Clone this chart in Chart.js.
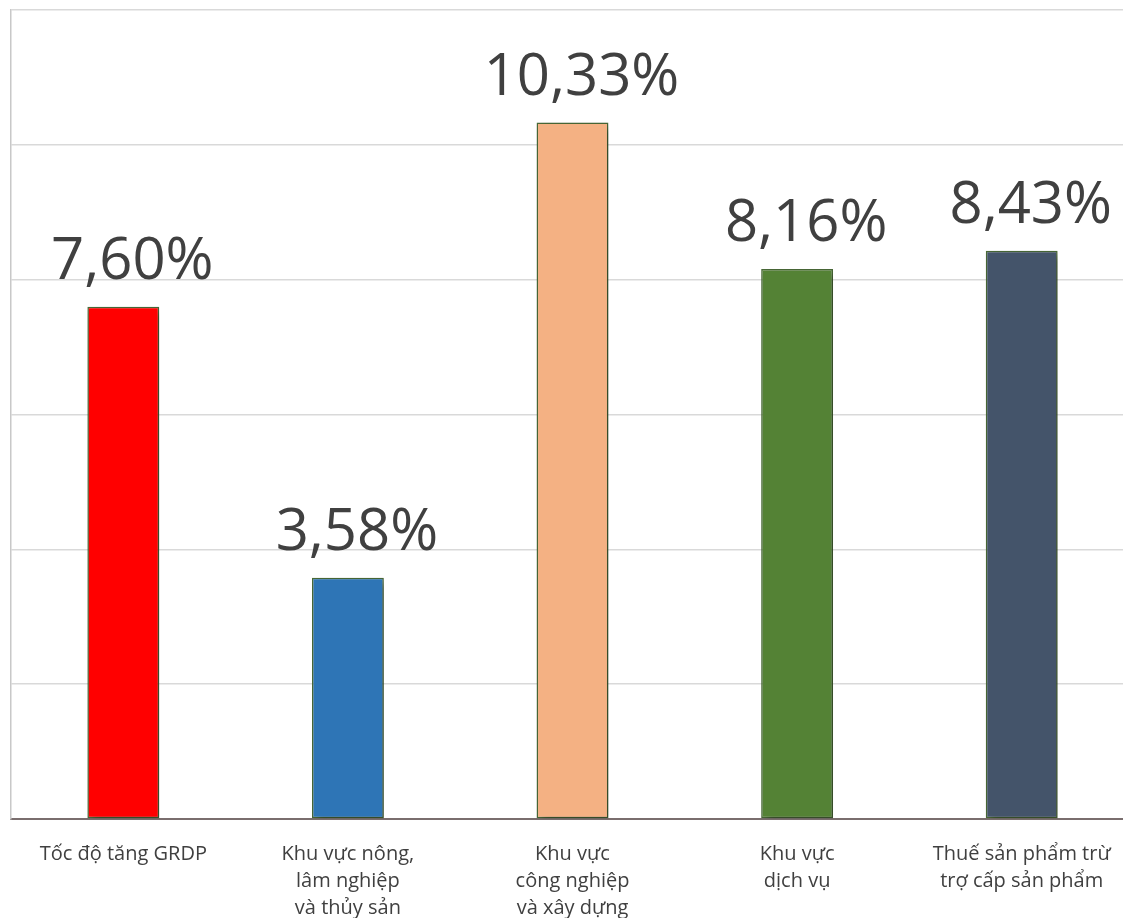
<!DOCTYPE html>
<html>
<head>
<meta charset="utf-8">
<script src="https://cdn.jsdelivr.net/npm/chart.js@4"></script>
<style>
  html, body { margin: 0; padding: 0; background: #fff; overflow: hidden; }
  #wrap { position: relative; width: 1134px; height: 918px; }
</style>
</head>
<body>
<div id="wrap"><canvas id="grdpChart"></canvas></div>
<script>
// categories (multi-line labels as in the picture)
const categories = [
    ['Tốc độ tăng GRDP'],
    ['Khu vực nông,', 'lâm nghiệp', 'và thủy sản'],
    ['Khu vực', 'công nghiệp', 'và xây dựng'],
    ['Khu vực', 'dịch vụ'],
    ['Thuế sản phẩm trừ', 'trợ cấp sản phẩm']
];
const growthValues = [7.60, 3.58, 10.33, 8.16, 8.43];
const barColors = ['#ff0000', '#2e75b6', '#f4b183', '#548235', '#44546a'];
const yTicks = [0, 2, 4, 6, 8, 10, 12];

// value labels above bars, e.g. "7,60%"
const valueLabels = {
    id: 'valueLabels',
    afterDatasetsDraw(chart) {
        const ctx = chart.ctx;
        const meta = chart.getDatasetMeta(0);
        ctx.save();
        ctx.font = '58px "Open Sans"';
        ctx.fillStyle = '#404040';
        ctx.textAlign = 'center';
        ctx.textBaseline = 'alphabetic';
        meta.data.forEach((bar, i) => {
            const txt = growthValues[i].toFixed(2).replace('.', ',') + '%';
            ctx.fillText(txt, bar.x + 9, bar.y - 28);
        });
        ctx.restore();
    }
};

// soft shadow behind the bars
const barShadow = {
    id: 'barShadow',
    beforeDatasetDraw(chart) {
        const ctx = chart.ctx;
        ctx.save();
        ctx.shadowColor = 'rgba(0,0,0,0.35)';
        ctx.shadowBlur = 8;
        ctx.shadowOffsetX = 4;
        ctx.shadowOffsetY = 4;
    },
    afterDatasetDraw(chart) {
        chart.ctx.restore();
    }
};

const ctxEl = document.getElementById('grdpChart');
new Chart(ctxEl.getContext('2d'), {
    type: 'bar',
    data: {
        labels: categories,
        datasets: [{
            data: growthValues,
            backgroundColor: barColors,
            borderColor: '#4a6a38',
            borderWidth: 1.5,
            borderSkipped: false,
            barPercentage: 0.32,
            categoryPercentage: 1
        }]
    },
    options: {
        responsive: true,
        maintainAspectRatio: false,
        animation: false,
        layout: { padding: { left: 11, top: 10, right: 0, bottom: 0 } },
        plugins: {
            legend: { display: false },
            tooltip: { enabled: false }
        },
        scales: {
            x: {
                grid: { display: false },
                border: { display: true, color: '#7a6e6e', width: 2 },
                ticks: {
                    color: '#404040',
                    font: { family: '"Open Sans"', size: 20, lineHeight: 1.35 },
                    padding: 14,
                    maxRotation: 0,
                    autoSkip: false
                },
                afterFit: s => { s.height = 99; }
            },
            y: {
                min: 0,
                max: 12,
                afterBuildTicks: s => { s.ticks = yTicks.map(v => ({ value: v })); },
                ticks: { display: false },
                grid: { color: '#d9d9d9', lineWidth: 1.5, drawTicks: false },
                border: { display: true, color: '#c8c8c8', width: 1.5 },
                afterFit: s => { s.width = 0; }
            }
        }
    },
    plugins: [barShadow, valueLabels]
});
</script>
</body>
</html>
